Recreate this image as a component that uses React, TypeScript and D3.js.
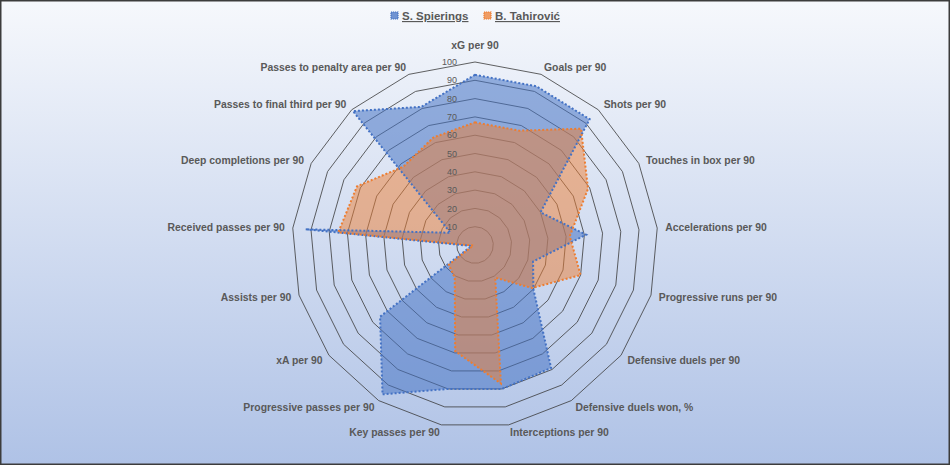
import { useEffect, useRef } from "react";
import * as d3 from "d3";

const metrics = [
  "xG per 90",
  "Goals per 90",
  "Shots per 90",
  "Touches in box per 90",
  "Accelerations per 90",
  "Progressive runs per 90",
  "Defensive duels per 90",
  "Defensive duels won, %",
  "Interceptions per 90",
  "Key passes per 90",
  "Progressive passes per 90",
  "xA per 90",
  "Assists per 90",
  "Received passes per 90",
  "Deep completions per 90",
  "Passes to final third per 90",
  "Passes to penalty area per 90",
];

const spierings = [93, 93, 93, 40, 61, 33, 40, 79, 80, 80, 96, 65, 2, 93, 15, 99, 81];
const tahirovic = [67, 67, 86, 69, 52, 60, 39, 21, 77, 59, 21, 18, 1, 75, 72, 58, 63];

const players = ["S. Spierings", "B. Tahirović"];
const colors = ["#4472C4", "#ED7D31"];
const ringTicks = [10, 20, 30, 40, 50, 60, 70, 80, 90, 100];

const W = 950, H = 465;
const cx = 475, cy = 245, R = 183;

const RadarChart = () => {
  const svgRef = useRef<SVGSVGElement>(null);

  useEffect(() => {
    if (!svgRef.current) return;
    const svg = d3.select(svgRef.current);
    svg.selectAll("*").remove();

    const defs = svg.append("defs");
    const grad = defs.append("linearGradient")
      .attr("id", "bg").attr("x1", 0).attr("y1", 0).attr("x2", 0).attr("y2", 1);
    grad.append("stop").attr("offset", "0%").attr("stop-color", "#f6f8fc");
    grad.append("stop").attr("offset", "100%").attr("stop-color", "#afc2e6");

    svg.append("rect")
      .attr("x", 0.75).attr("y", 0.75)
      .attr("width", W - 1.5).attr("height", H - 1.5)
      .attr("fill", "url(#bg)")
      .attr("stroke", "#3c3c3c")
      .attr("stroke-width", 1.5);

    const r = d3.scaleLinear().domain([0, 100]).range([0, R]);
    const angle = d3.scaleLinear().domain([0, metrics.length]).range([0, 2 * Math.PI]);
    const idx = d3.range(metrics.length);

    const g = svg.append("g").attr("transform", `translate(${cx},${cy})`);

    // concentric gridlines
    const ring = d3.lineRadial<number>()
      .angle(i => angle(i))
      .curve(d3.curveLinearClosed);

    g.selectAll("path.ring")
      .data(ringTicks)
      .join("path")
      .attr("class", "ring")
      .attr("d", t => ring.radius(() => r(t))(idx))
      .attr("fill", "none")
      .attr("stroke", "#3a3a3a")
      .attr("stroke-width", 0.8);

    // series polygons
    const series = [spierings, tahirovic];
    const area = d3.lineRadial<number>()
      .angle((_, i) => angle(i))
      .radius(v => r(v))
      .curve(d3.curveLinearClosed);

    series.forEach((vals, s) => {
      g.append("path")
        .attr("d", area(vals))
        .attr("fill", colors[s])
        .attr("fill-opacity", s === 0 ? 0.54 : 0.5)
        .attr("stroke", "none");
    });
    series.forEach((vals, s) => {
      g.append("path")
        .attr("d", area(vals))
        .attr("fill", "none")
        .attr("stroke", colors[s])
        .attr("stroke-width", 2)
        .attr("stroke-dasharray", "2 2");
    });

    // value axis labels
    g.selectAll("text.tick")
      .data(ringTicks)
      .join("text")
      .attr("class", "tick")
      .attr("x", -18)
      .attr("y", t => -r(t))
      .attr("dy", "0.35em")
      .attr("text-anchor", "end")
      .attr("font-family", "'Liberation Sans', Arial, sans-serif")
      .attr("font-size", "9px")
      .attr("fill", "#595959")
      .text(t => t);

    // category labels
    const lr = R + 8;
    g.selectAll("text.cat")
      .data(metrics)
      .join("text")
      .attr("class", "cat")
      .attr("x", (_, i) => lr * Math.sin(angle(i)))
      .attr("y", (_, i) => {
        const a = angle(i);
        const y = -lr * Math.cos(a);
        return Math.abs(Math.sin(a)) < 0.1 ? y - 9 * Math.cos(a) : y;
      })
      .attr("dy", "0.35em")
      .attr("text-anchor", (_, i) => {
        const s = Math.sin(angle(i));
        return s > 0.1 ? "start" : s < -0.1 ? "end" : "middle";
      })
      .attr("font-family", "'Liberation Sans', Arial, sans-serif")
      .attr("font-weight", "bold")
      .attr("font-size", "10.4px")
      .attr("fill", "#595959")
      .text(d => d);

    // legend
    const legendX = [391, 484];
    const legend = svg.append("g");
    players.forEach((p, s) => {
      legend.append("rect")
        .attr("x", legendX[s]).attr("y", 12)
        .attr("width", 7).attr("height", 7)
        .attr("fill", colors[s])
        .attr("fill-opacity", 0.75)
        .attr("stroke", colors[s])
        .attr("stroke-width", 1.2)
        .attr("stroke-dasharray", "1.2 0.8");
      legend.append("text")
        .attr("x", legendX[s] + 11).attr("y", 20)
        .attr("font-family", "'Liberation Sans', Arial, sans-serif")
        .attr("font-weight", "bold")
        .attr("font-size", "11.5px")
        .attr("fill", "#595959")
        .attr("text-decoration", "underline")
        .text(p);
    });
  }, []);

  return (
    <svg
      ref={svgRef}
      width={W}
      height={H}
      style={{ position: "absolute", left: 0, top: 0 }}
    />
  );
};

export default function App() {
  return <RadarChart />;
}
